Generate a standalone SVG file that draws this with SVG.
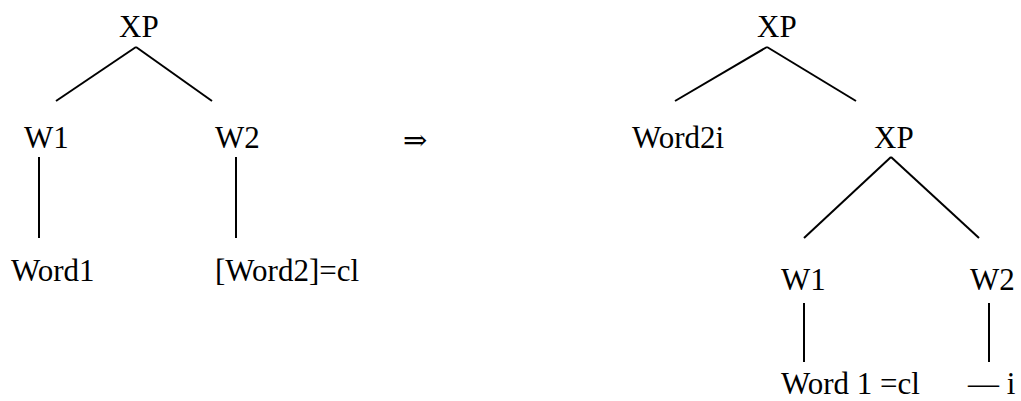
<svg xmlns="http://www.w3.org/2000/svg" width="1021" height="401" viewBox="0 0 1021 401">
<style>
text{font-family:"Liberation Serif","Times New Roman",serif;font-size:31px;fill:#000}
.e{stroke:#000;stroke-width:2;fill:none}
</style>
<rect width="1021" height="401" fill="#fff"/>
<g id="connectors">
<line class="e" x1="136" y1="47" x2="56" y2="101"/>
<line class="e" x1="136" y1="47" x2="212" y2="101"/>
<line class="e" x1="39" y1="157" x2="39" y2="238"/>
<line class="e" x1="236" y1="157" x2="236" y2="238"/>
<line class="e" x1="767" y1="47" x2="675" y2="101"/>
<line class="e" x1="767" y1="47" x2="856" y2="101"/>
<line class="e" x1="891" y1="157" x2="804" y2="238"/>
<line class="e" x1="891" y1="157" x2="979" y2="238"/>
<line class="e" x1="804" y1="303" x2="804" y2="362"/>
<line class="e" x1="989" y1="303" x2="989" y2="362"/>
</g>
<g id="l-xp"><text x="119" y="37">XP</text></g>
<g id="l-w1"><text x="24" y="148">W1</text></g>
<g id="l-w2"><text x="215" y="148">W2</text></g>
<g id="l-word1"><text x="11" y="281">Word1</text></g>
<g id="l-word2"><text x="215" y="281">[Word2]=cl</text></g>
<g id="arrow"><text x="403" y="150" style="font-family:'DejaVu Serif',serif;font-size:29px">⇒</text></g>
<g id="r-xp"><text x="757" y="37">XP</text></g>
<g id="r-word2i"><text x="632" y="148">Word2i</text></g>
<g id="r-xp2"><text x="874" y="148">XP</text></g>
<g id="r-w1"><text x="781" y="290">W1</text></g>
<g id="r-w2"><text x="970" y="290">W2</text></g>
<g id="r-word1cl"><text x="781" y="394">Word 1 =cl</text></g>
<g id="r-trace"><text x="968" y="394">— i</text></g>
</svg>
